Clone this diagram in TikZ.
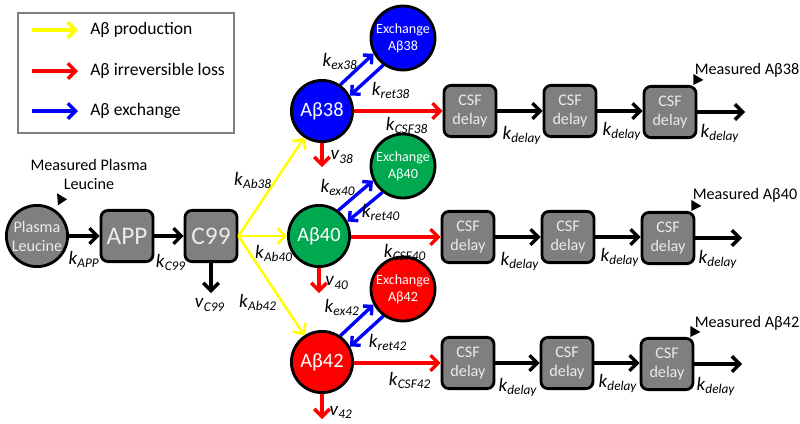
\documentclass[tikz,border=0pt]{standalone}
\usepackage{fontspec}
\setmainfont{Carlito}
\usetikzlibrary{arrows.meta}

\definecolor{poolgray}{RGB}{127,127,127}
\definecolor{abblue}{RGB}{0,0,255}
\definecolor{abgreen}{RGB}{0,168,80}
\definecolor{abred}{RGB}{255,0,0}
\definecolor{prodyellow}{RGB}{255,255,0}
\definecolor{softwhite}{RGB}{235,235,235}

\newcommand{\rate}[2]{\textit{#1}\textsubscript{\textit{#2}}}

\tikzset{
  pool/.style={circle, draw, line width=2pt, minimum size=1.53cm, inner sep=0pt, text=white, align=center, font=\fontsize{14.5}{16}\selectfont},
  xpool/.style={pool, minimum size=1.6cm, font=\fontsize{10}{12}\selectfont},
  delaybox/.style={rectangle, rounded corners=5pt, draw, line width=2pt, fill=poolgray, minimum width=1.3cm, minimum height=1.28cm, inner sep=0pt, text=softwhite, align=center, font=\fontsize{11.5}{13}\selectfont},
  flow/.style={line width=2.4pt, -{Straight Barb[length=5.5pt,width=11pt]}},
  prod/.style={flow, prodyellow, line width=1.8pt},
  loss/.style={flow, abred},
  exch/.style={flow, abblue, -{Straight Barb[length=4.5pt,width=9pt]}},
  ratelabel/.style={font=\fontsize{13.5}{15}\selectfont},
  legtext/.style={anchor=west, inner sep=0pt, font=\fontsize{12.5}{14}\selectfont},
  note/.style={font=\fontsize{11.5}{13.5}\selectfont, align=center},
}

\begin{document}
\begin{tikzpicture}[x=0.025cm, y=-0.025cm]
  \useasboundingbox (0,0) rectangle (800,423);

  % legend
  \draw[poolgray, line width=1.8pt] (18,13) rectangle (234,133);
  \node[legtext] (legprod) at (90,30) {Aβ production};
  \node[legtext] (legloss) at (90,71) {Aβ irreversible loss};
  \node[legtext] (legexch) at (90,111) {Aβ exchange};
  \draw[prod, line width=2.6pt] ([xshift=-1.45cm]legprod.west) -- ([xshift=-0.3cm]legprod.west);
  \draw[loss] ([xshift=-1.45cm]legloss.west) -- ([xshift=-0.3cm]legloss.west);
  \draw[exch, -{Straight Barb[length=5.5pt,width=11pt]}] ([xshift=-1.45cm]legexch.west) -- ([xshift=-0.3cm]legexch.west);

  % precursors
  \node[pool, fill=poolgray, text=softwhite, font=\fontsize{11.5}{13.5}\selectfont] (plasma) at (37,236) {Plasma\\Leucine};
  \node[delaybox, font=\fontsize{18}{20}\selectfont] (app) at (127,236) {APP};
  \node[delaybox, font=\fontsize{18}{20}\selectfont] (c99) at (211,236) {C99};
  \node[note] (plasmanote) at (89,174) {Measured Plasma\\Leucine};
  \fill ([shift={(4,-15)}]plasma.60) -- ++(10,6) -- ++(-9,6) -- cycle;
  \coordinate (c99out) at (211,293);

  \draw[flow] (plasma) -- (app);
  \draw[flow] (app) -- (c99);
  \draw[flow] (c99) -- (c99out);
  \node[ratelabel] (kapp) at (84,259) {\rate{k}{APP}};
  \node[ratelabel] (kc99) at (171,262) {\rate{k}{C99}};
  \node[ratelabel] (vc99) at (210,305) {\rate{v}{C99}};

  % amyloid beta pools
  \node[pool, fill=abblue] (ab38) at (322,111) {Aβ38};
  \node[pool, fill=abgreen] (ab40) at (319,236) {Aβ40};
  \node[pool, fill=abred] (ab42) at (322,362) {Aβ42};
  \node[xpool, fill=abblue] (ex38) at (403,38) {Exchange\\Aβ38};
  \node[xpool, fill=abgreen] (ex40) at (403,166) {Exchange\\Aβ40};
  \node[xpool, fill=abred] (ex42) at (403,289) {Exchange\\Aβ42};

  % production
  \draw[prod] (c99.east) -- (ab38);
  \draw[prod] (c99.east) -- (ab40);
  \draw[prod] (c99.east) -- (ab42);
  \node[ratelabel] (kab38) at (253,180) {\rate{k}{Ab38}};
  \node[ratelabel] (kab40) at (274,253) {\rate{k}{Ab40}};
  \node[ratelabel] (kab42) at (258,302) {\rate{k}{Ab42}};

  % exchange
  \draw[exch] (ab38.55) -- (ex38.208);
  \draw[exch] (ex38.234) -- (ab38.29);
  \draw[exch] (ab40.53) -- (ex40.206);
  \draw[exch] (ex40.232) -- (ab40.27);
  \draw[exch] (ab42.55) -- (ex42.208);
  \draw[exch] (ex42.234) -- (ab42.29);
  \node[ratelabel] (kex38) at (340,61) {\rate{k}{ex38}};
  \node[ratelabel] (kret38) at (391,90) {\rate{k}{ret38}};
  \node[ratelabel] (kex40) at (338,187) {\rate{k}{ex40}};
  \node[ratelabel] (kret40) at (381,212) {\rate{k}{ret40}};
  \node[ratelabel] (kex42) at (342,307) {\rate{k}{ex42}};
  \node[ratelabel] (kret42) at (388,342) {\rate{k}{ret42}};

  % irreversible loss
  \coordinate (out38) at (322,167);
  \coordinate (out40) at (319,293);
  \coordinate (out42) at (322,419);
  \draw[loss] (ab38) -- (out38);
  \draw[loss] (ab40) -- (out40);
  \draw[loss] (ab42) -- (out42);
  \node[ratelabel] (v38) at (342,157) {\rate{v}{38}};
  \node[ratelabel] (v40) at (337,283) {\rate{v}{40}};
  \node[ratelabel] (v42) at (341,412) {\rate{v}{42}};

  % CSF delay compartments
  \node[delaybox] (csf38a) at (470,111) {CSF\\delay};
  \node[delaybox] (csf38b) at (570,111) {CSF\\delay};
  \node[delaybox] (csf38c) at (670,112) {CSF\\delay};
  \node[delaybox] (csf40a) at (468,237) {CSF\\delay};
  \node[delaybox] (csf40b) at (568,237) {CSF\\delay};
  \node[delaybox] (csf40c) at (668,238) {CSF\\delay};
  \node[delaybox] (csf42a) at (468,363) {CSF\\delay};
  \node[delaybox] (csf42b) at (567,363) {CSF\\delay};
  \node[delaybox] (csf42c) at (667,364) {CSF\\delay};
  \coordinate (end38) at (745,112);
  \coordinate (end40) at (742,238);
  \coordinate (end42) at (742,364);

  \draw[loss] (ab38.east |- csf38a) -- (csf38a);
  \draw[loss] (ab40.east |- csf40a) -- (csf40a);
  \draw[loss] (ab42.east |- csf42a) -- (csf42a);
  \node[ratelabel] (kcsf38) at (407,125) {\rate{k}{CSF38}};
  \node[ratelabel] (kcsf40) at (405,252) {\rate{k}{CSF40}};
  \node[ratelabel] (kcsf42) at (410,380) {\rate{k}{CSF42}};

  \draw[flow] (csf38a) -- (csf38b);
  \draw[flow] (csf38b) -- (csf38c.west |- csf38b);
  \draw[flow] (csf38c) -- (end38);
  \draw[flow] (csf40a) -- (csf40b);
  \draw[flow] (csf40b) -- (csf40c.west |- csf40b);
  \draw[flow] (csf40c) -- (end40);
  \draw[flow] (csf42a) -- (csf42b);
  \draw[flow] (csf42b) -- (csf42c.west |- csf42b);
  \draw[flow] (csf42c) -- (end42);

  \node[ratelabel] (kd38a) at (522,135) {\rate{k}{delay}};
  \node[ratelabel] (kd38b) at (622,131) {\rate{k}{delay}};
  \node[ratelabel] (kd38c) at (720,133) {\rate{k}{delay}};
  \node[ratelabel] (kd40a) at (520,261) {\rate{k}{delay}};
  \node[ratelabel] (kd40b) at (620,257) {\rate{k}{delay}};
  \node[ratelabel] (kd40c) at (718,259) {\rate{k}{delay}};
  \node[ratelabel] (kd42a) at (518,387) {\rate{k}{delay}};
  \node[ratelabel] (kd42b) at (618,383) {\rate{k}{delay}};
  \node[ratelabel] (kd42c) at (716,386) {\rate{k}{delay}};

  % measurements
  \node[note] (meas38) at (747,70) {Measured Aβ38};
  \node[note] (meas40) at (745,195) {Measured Aβ40};
  \node[note] (meas42) at (747,323) {Measured Aβ42};
  \fill ([shift={(-4,-11)}]csf38c.north east) -- ++(10,6) -- ++(-10,5) -- cycle;
  \fill ([shift={(-4,-11)}]csf40c.north east) -- ++(10,6) -- ++(-10,5) -- cycle;
  \fill ([shift={(-4,-11)}]csf42c.north east) -- ++(10,6) -- ++(-10,5) -- cycle;
\end{tikzpicture}
\end{document}
